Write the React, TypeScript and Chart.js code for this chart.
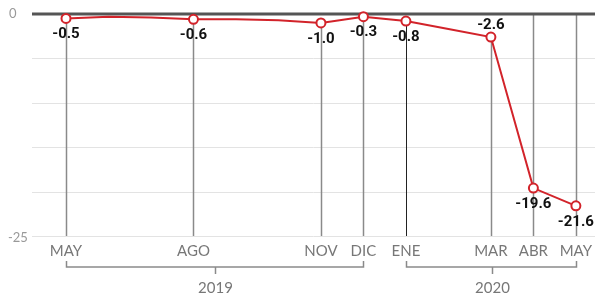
import React, { useEffect, useRef } from "react";
import { Chart, registerables } from "chart.js";

Chart.register(...registerables);

const months = ["MAY", "JUN", "JUL", "AGO", "SEP", "OCT", "NOV", "DIC", "ENE", "FEB", "MAR", "ABR", "MAY"];
const values = [-0.5, -0.3, -0.4, -0.6, -0.6, -0.7, -1.0, -0.3, -0.8, -1.7, -2.6, -19.6, -21.6];
const labeled = [true, false, false, true, false, false, true, true, true, false, true, true, true];
const valueLabels = ["-0.5", "", "", "-0.6", "", "", "-1.0", "-0.3", "-0.8", "", "-2.6", "-19.6", "-21.6"];
const labelAbove = [false, false, false, false, false, false, false, false, false, false, true, false, false];
const yTicks = [0, -5, -10, -15, -20, -25];
const yTickLabels = ["0", "", "", "", "", "-25"];
const yearLabels = ["2019", "2020"];
const yearStart = [0, 8];
const yearEnd = [7, 12];

const RED = "#d2232a";

const overlay = {
  id: "overlay",
  beforeDatasetsDraw(chart: any) {
    const ctx = chart.ctx;
    const xs = chart.scales.x;
    const ys = chart.scales.y;
    const area = chart.chartArea;
    ctx.save();
    // horizontal grid
    yTicks.forEach((t) => {
      if (t === 0) return;
      const y = Math.round(ys.getPixelForValue(t)) + 0.5;
      ctx.strokeStyle = "#e3e3e3";
      ctx.lineWidth = 1;
      ctx.beginPath();
      ctx.moveTo(area.left, y);
      ctx.lineTo(area.right, y);
      ctx.stroke();
    });
    // vertical lines
    const bottom = ys.getPixelForValue(-25);
    months.forEach((m, i) => {
      if (!labeled[i]) return;
      const x = Math.round(xs.getPixelForValue(i)) + 0.5;
      const full = i >= 11;
      const yStart = full ? ys.getPixelForValue(0) : ys.getPixelForValue(values[i]);
      ctx.strokeStyle = i === 8 ? "#222" : "#8a8a8a";
      ctx.lineWidth = i === 8 ? 1 : 1.5;
      ctx.beginPath();
      ctx.moveTo(x, yStart);
      ctx.lineTo(x, bottom);
      ctx.stroke();
    });
    // zero line
    const y0 = ys.getPixelForValue(0);
    ctx.strokeStyle = "#555";
    ctx.lineWidth = 3;
    ctx.beginPath();
    ctx.moveTo(area.left, y0);
    ctx.lineTo(area.right, y0);
    ctx.stroke();

    // y labels
    ctx.fillStyle = "#999";
    ctx.font = "13px Lato";
    ctx.textAlign = "left";
    ctx.textBaseline = "middle";
    yTicks.forEach((t, i) => {
      if (!yTickLabels[i]) return;
      const y = ys.getPixelForValue(t);
      ctx.fillText(yTickLabels[i], t === 0 ? 9 : 8, t === 0 ? y : y + 2);
    });

    // x labels
    ctx.fillStyle = "#777";
    ctx.font = "15px Lato";
    ctx.textAlign = "center";
    months.forEach((m, i) => {
      if (!labeled[i]) return;
      ctx.fillText(m, xs.getPixelForValue(i), bottom + 15);
    });

    // year brackets
    ctx.strokeStyle = "#8a8a8a";
    ctx.lineWidth = 1.5;
    yearLabels.forEach((lab, k) => {
      const x1 = Math.round(xs.getPixelForValue(yearStart[k])) + 0.5;
      const x2 = Math.round(xs.getPixelForValue(yearEnd[k])) + 0.5;
      const yb = bottom + 31;
      const xm = Math.round((x1 + x2) / 2) + 0.5;
      ctx.beginPath();
      ctx.moveTo(x1, yb - 6);
      ctx.lineTo(x1, yb);
      ctx.lineTo(x2, yb);
      ctx.lineTo(x2, yb - 6);
      ctx.moveTo(xm, yb);
      ctx.lineTo(xm, yb + 7);
      ctx.stroke();
      ctx.fillStyle = "#777";
      ctx.font = "15px Lato";
      ctx.fillText(lab, xm, bottom + 52);
    });
    ctx.restore();
  },
  afterDatasetsDraw(chart: any) {
    const ctx = chart.ctx;
    const xs = chart.scales.x;
    const ys = chart.scales.y;
    ctx.save();
    ctx.fillStyle = "#111";
    ctx.font = "bold 15px Roboto";
    ctx.textAlign = "center";
    ctx.textBaseline = "middle";
    months.forEach((m, i) => {
      if (!valueLabels[i]) return;
      const x = xs.getPixelForValue(i);
      const y = ys.getPixelForValue(values[i]);
      ctx.fillText(valueLabels[i], x, labelAbove[i] ? y - 12 : y + 16);
    });
    ctx.restore();
  },
};

export default function App() {
  const ref = useRef<HTMLCanvasElement>(null);
  useEffect(() => {
    document.body.style.margin = "0";
    const chart = new Chart(ref.current!, {
      type: "line",
      data: {
        datasets: [
          {
            data: values.map((v, i) => ({ x: i, y: v })),
            borderColor: RED,
            borderWidth: 2,
            pointRadius: labeled.map((l) => (l ? 4.5 : 0)),
            pointBorderWidth: 2,
            pointBackgroundColor: "#fff",
            pointBorderColor: RED,
            tension: 0,
            clip: false as any,
          },
        ],
      },
      options: {
        animation: false,
        responsive: false,
        maintainAspectRatio: false,
        layout: { autoPadding: false, padding: { left: 32, right: 0, top: 14, bottom: 66 } },
        plugins: { legend: { display: false }, tooltip: { enabled: false } },
        scales: {
          x: { type: "linear", min: -0.8, max: 12.45, display: false },
          y: { type: "linear", min: -25, max: 0, display: false },
        },
      },
      plugins: [overlay],
    });
    return () => chart.destroy();
  }, []);
  return (
    <div style={{ position: "absolute", left: 0, top: 0, width: 595, height: 302 }}>
      <canvas ref={ref} width={595} height={302} style={{ width: 595, height: 302 }} />
    </div>
  );
}
